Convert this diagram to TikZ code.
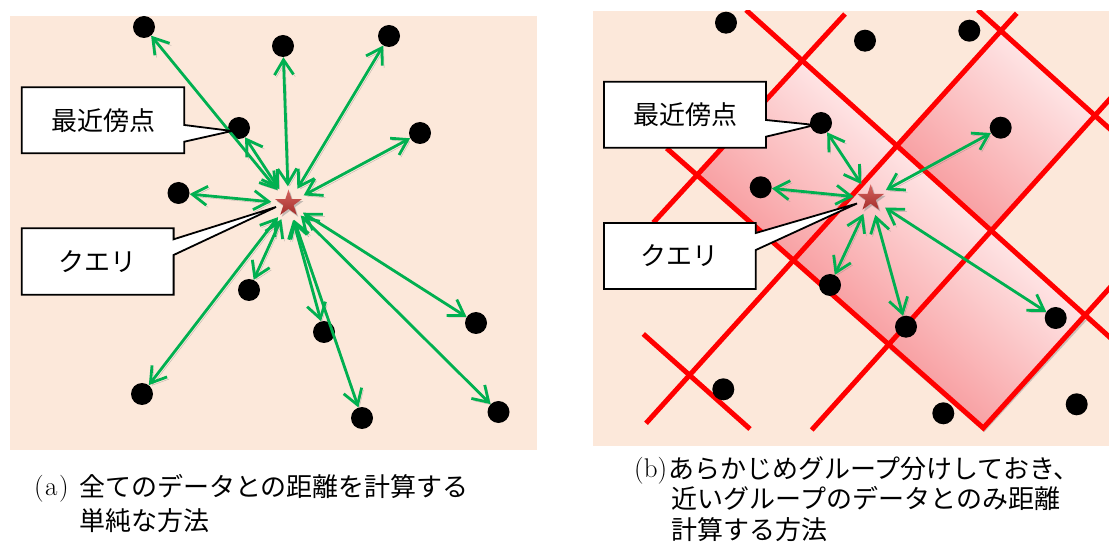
\documentclass[tikz,border=0pt]{standalone}
\usepackage{fontspec}
\newfontfamily\jp{Noto Sans CJK JP}
\usetikzlibrary{arrows.meta,shapes.geometric,calc}
\definecolor{bgpeach}{HTML}{FCE8DA}
\definecolor{arrgreen}{HTML}{00B050}
\definecolor{gridred}{HTML}{FF0000}
\definecolor{cellhi}{HTML}{FFEEEE}
\definecolor{celllo}{HTML}{F7979A}
\definecolor{starhi}{HTML}{D4625E}
\definecolor{starlo}{HTML}{A52F2C}
\begin{document}
\begin{tikzpicture}[x=1pt,y=-1pt,
  dot/.style={circle,fill=black,inner sep=0pt,minimum size=22pt},
  qhub/.style={circle,inner sep=0pt,minimum size=34pt},
  qstar/.style={star,star points=5,star point ratio=2.6,minimum size=28pt,inner sep=0pt,top color=starhi,bottom color=starlo},
  qshadow/.style={star,star points=5,star point ratio=2.6,minimum size=28pt,inner sep=0pt,fill=black!45,opacity=0.5},
  arr/.style={draw=arrgreen,line width=2.8pt,{Straight Barb[length=15pt,width=19pt]}-{Straight Barb[length=15pt,width=19pt]},
    preaction={draw=black!55,opacity=0.45,transform canvas={shift={(1.8pt,-2.2pt)}}}},
  gridline/.style={draw=gridred,line width=5pt},
  cellshade/.style={top color=cellhi,bottom color=celllo,shading angle=-42},
  callout/.style={draw=black,line width=1.8pt,fill=white,line join=miter},
  labtxt/.style={font=\jp\fontsize{26}{30}\selectfont,inner sep=0pt},
  captxt/.style={font=\jp\fontsize{26}{31}\selectfont,inner sep=0pt,anchor=base west},
  captag/.style={font=\rmfamily\fontsize{27}{31}\selectfont,inner sep=0pt,anchor=base west},
]
\fill[white] (0,0) rectangle (1109,545);
\useasboundingbox (0,0) rectangle (1109,545);
% ---------------- panel (a)
\fill[bgpeach] (10,16) rectangle (537,450);
\node[dot] (a1) at (144,27) {};
\node[dot] (a2) at (283,46) {};
\node[dot] (a3) at (389,36) {};
\node[dot] (a4) at (239,128) {};
\node[dot] (a5) at (420,133) {};
\node[dot] (a6) at (178.5,193) {};
\node[dot] (a7) at (249,290) {};
\node[dot] (a8) at (324,332) {};
\node[dot] (a9) at (476,323) {};
\node[dot] (a10) at (142,394) {};
\node[dot] (a11) at (362,418) {};
\node[dot] (a12) at (498.5,412) {};
\node[qhub] (qa) at (288.5,203.5) {};
\foreach \d in {a1,a2,a3,a4,a5,a6,a7,a8,a9,a10,a11,a12}
  \draw[arr] (qa) -- (\d);
\node[qshadow] at ([shift={(1.5pt,-2pt)}]qa) {};
\node[qstar] (qas) at (qa) {};
% callouts (a)
\coordinate (ca1) at (103,120.3);
\coordinate (ta1) at (232,131);
\draw[callout] ($(ca1)+(-81.3,-33)$) -- ($(ca1)+(81.3,-33)$) -- ($(ca1)+(81.3,4.7)$) -- (ta1)
  -- ($(ca1)+(81.3,21.4)$) -- ($(ca1)+(81.3,33)$) -- ($(ca1)+(-81.3,33)$) -- cycle;
\node[labtxt] (la1) at (ca1) {最近傍点};
\coordinate (ca2) at (97.7,261.5);
\coordinate (ta2) at (276,207);
\draw[callout] ($(ca2)+(-75.9,-33.2)$) -- ($(ca2)+(75.9,-33.2)$) -- ($(ca2)+(75.9,-22.2)$) -- (ta2)
  -- ($(ca2)+(75.9,-6.5)$) -- ($(ca2)+(75.9,33.2)$) -- ($(ca2)+(-75.9,33.2)$) -- cycle;
\node[labtxt] (la2) at (ca2) {クエリ};
% ---------------- panel (b)
\fill[bgpeach] (593,11) rectangle (1109,445.5);
\coordinate (p11) at (801.7,60.7);
\coordinate (p12) at (897.7,145.7);
\coordinate (p13) at (991.7,231.2);
\coordinate (p14) at (1086,316);
\coordinate (p21) at (698.3,175);
\coordinate (p22) at (793.3,260);
\coordinate (p23) at (888.3,345);
\coordinate (p24) at (983.3,428);
\coordinate (p32) at (1000.7,31.7);
\coordinate (p33) at (1095,115);
\begin{scope}
\clip (593,11) rectangle (1109,445.5);
\fill[black!40,opacity=0.5] ([shift={(1pt,-4pt)}]p24) -- ([shift={(1pt,-4pt)}]p14) -- ([shift={(1pt,-4pt)}]p23) -- cycle;
\shade[cellshade] (p11) -- (p12) -- (p22) -- (p21) -- cycle;
\shade[cellshade] (p12) -- (p13) -- (p23) -- (p22) -- cycle;
\shade[cellshade] (p13) -- (p14) -- (p24) -- (p23) -- cycle;
\shade[cellshade] (p32) -- (p33) -- (p13) -- (p12) -- cycle;
\draw[gridline] (746,10) -- (1115,342);
\draw[gridline,line join=miter] (666.7,148.3) -- (p24) -- (1115,282);
\draw[gridline] (977.7,10) -- (1115,133.6);
\draw[gridline] (643.3,334) -- (750,429);
\draw[gridline] (845,14) -- (653.3,222.7);
\draw[gridline] (1016.7,13.3) -- (646,423.3);
\draw[gridline] (1115,93.3) -- (811.7,430);
\end{scope}
\node[dot] (b1) at (726,22.7) {};
\node[dot] (b2) at (865,40.7) {};
\node[dot] (b3) at (969.3,30.7) {};
\node[dot] (b4) at (821,123) {};
\node[dot] (b5) at (1000.7,127.7) {};
\node[dot] (b6) at (760.7,187.3) {};
\node[dot] (b7) at (830,285) {};
\node[dot] (b8) at (906,326.7) {};
\node[dot] (b9) at (1055.7,318) {};
\node[dot] (b10) at (723.3,389.3) {};
\node[dot] (b11) at (943.3,413.3) {};
\node[dot] (b12) at (1076.7,404.3) {};
\node[qhub] (qb) at (870.7,198.3) {};
\foreach \d in {b4,b5,b6,b7,b8,b9}
  \draw[arr] (qb) -- (\d);
\node[qshadow] at ([shift={(1.5pt,-2pt)}]qb) {};
\node[qstar] (qbs) at (qb) {};
% callouts (b)
\coordinate (cb1) at (685,114.7);
\coordinate (tb1) at (815,125);
\draw[callout] ($(cb1)+(-81,-33)$) -- ($(cb1)+(81,-33)$) -- ($(cb1)+(81,5.3)$) -- (tb1)
  -- ($(cb1)+(81,22)$) -- ($(cb1)+(81,33)$) -- ($(cb1)+(-81,33)$) -- cycle;
\node[labtxt] (lb1) at (cb1) {最近傍点};
\coordinate (cb2) at (679.9,256);
\coordinate (tb2) at (857,203.5);
\draw[callout] ($(cb2)+(-75.9,-33)$) -- ($(cb2)+(75.9,-33)$) -- ($(cb2)+(75.9,-23)$) -- (tb2)
  -- ($(cb2)+(75.9,-6)$) -- ($(cb2)+(75.9,33)$) -- ($(cb2)+(-75.9,33)$) -- cycle;
\node[labtxt] (lb2) at (cb2) {クエリ};
% ---------------- captions
\node[captag] (capa0) at (34,495.5) {(\kern1.5pt a\kern1.5pt)};
\node[captxt] (capa1) at (79,496) {全てのデータとの距離を計算する};
\node[captxt] (capa2) at (79,530) {単純な方法};
\node[captag] (capb0) at (634,477.5) {(b)};
\node[captxt] (capb1) at (668,478) {あらかじめグループ分けしておき、};
\node[captxt] (capb2) at (671.7,508.5) {近いグループのデータとのみ距離};
\node[captxt] (capb3) at (671.7,539) {計算する方法};
\end{tikzpicture}
\end{document}
